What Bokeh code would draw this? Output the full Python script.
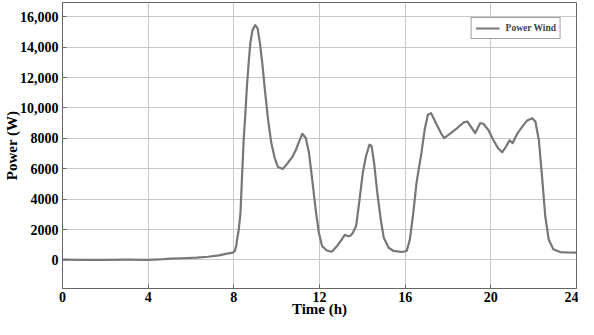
from bokeh.plotting import figure
from bokeh.models import FixedTicker, CustomJSTickFormatter, Range1d, Legend, LegendItem
from bokeh.embed import file_html
from bokeh.resources import INLINE

hours = [0, 1, 2, 3, 4, 4.5, 5.04, 5.6, 6.26, 6.8, 7.3, 7.63, 7.95, 8.05, 8.11, 8.16, 8.23, 8.31,
         8.39, 8.46, 8.54, 8.61, 8.69, 8.77, 8.87, 9.0, 9.11, 9.22, 9.33, 9.45, 9.6, 9.75, 9.91,
         10.06, 10.29, 10.52, 10.75, 10.9, 11.05, 11.2, 11.36, 11.51, 11.66, 11.82, 11.97, 12.12,
         12.34, 12.57, 12.8, 13.02, 13.18, 13.33, 13.45, 13.56, 13.71, 13.87, 14.02, 14.17, 14.33,
         14.43, 14.55, 14.7, 14.86, 15.0, 15.23, 15.46, 15.84, 16.07, 16.22, 16.38, 16.53, 16.76,
         16.91, 17.06, 17.21, 17.44, 17.67, 17.82, 18.13, 18.43, 18.74, 18.9, 19.04, 19.27, 19.5,
         19.65, 19.88, 20.11, 20.33, 20.53, 20.72, 20.87, 21.02, 21.25, 21.48, 21.7, 21.93, 22.08,
         22.24, 22.39, 22.54, 22.7, 22.92, 23.23, 23.6, 24]
power_wind = [20, 10, 0, 20, 10, 30, 85, 110, 150, 210, 300, 400, 480, 600, 920, 1400, 2000, 3100,
              5720, 7910, 9660, 11400, 12940, 14250, 15120, 15450, 15230, 14250, 12940, 11190, 9220,
              7690, 6700, 6120, 5990, 6380, 6820, 7250, 7800, 8300, 8020, 7040, 5290, 3320, 1790,
              920, 620, 540, 880, 1300, 1650, 1560, 1600, 1790, 2230, 3970, 5720, 6820, 7580, 7510,
              6380, 4410, 2660, 1460, 800, 590, 520, 590, 1350, 3100, 5070, 7040, 8560, 9550, 9660,
              9000, 8350, 8020, 8350, 8680, 9050, 9110, 8830, 8350, 9000, 8960, 8560, 7910, 7360,
              7080, 7480, 7870, 7690, 8350, 8790, 9180, 9330, 9110, 7910, 5510, 2890, 1350, 700,
              520, 490, 480]

x_ticks = [0, 4, 8, 12, 16, 20, 24]
y_ticks = [0, 2000, 4000, 6000, 8000, 10000, 12000, 14000, 16000]

FONT = "Liberation Serif"

p = figure(width=578, height=319, output_backend="svg", toolbar_location=None,
           x_range=Range1d(0, 24), y_range=Range1d(-1880, 16940),
           min_border_top=2, min_border_right=2, min_border_left=0, min_border_bottom=0)

r = p.line(hours, power_wind, line_color="#777777", line_width=2.2, line_join="round")

p.xaxis.ticker = FixedTicker(ticks=x_ticks)
p.yaxis.ticker = FixedTicker(ticks=y_ticks)
p.yaxis.formatter = CustomJSTickFormatter(code="""
    return tick >= 10000 ? tick.toLocaleString('en-US') : tick.toString();
""")

for ax in (p.xaxis[0], p.yaxis[0]):
    ax.major_label_text_font = FONT
    ax.major_label_text_font_style = "bold"
    ax.major_label_text_font_size = "14px"
    ax.major_label_text_color = "black"
    ax.axis_label_text_font = FONT
    ax.axis_label_text_font_style = "bold"
    ax.axis_label_text_font_size = "15px"
    ax.axis_label_text_color = "black"
    ax.major_tick_in = 4
    ax.major_tick_out = 0
    ax.minor_tick_line_color = None
    ax.axis_line_color = "#666666"
    ax.major_tick_line_color = "#666666"

p.xaxis.axis_label = "Time (h)"
p.yaxis.axis_label = "Power (W)"
p.xaxis.major_label_standoff = 3
p.xaxis.axis_label_standoff = -4
p.yaxis.major_label_standoff = 4
p.yaxis.axis_label_standoff = -3

p.grid.grid_line_color = "#c8c8c8"
p.grid.grid_line_width = 1
p.outline_line_color = "#666666"
p.outline_line_width = 1

legend = Legend(items=[LegendItem(label="Power Wind", renderers=[r])], location="top_right")
legend.margin = 15
legend.padding = 4
legend.label_text_font = FONT
legend.label_text_font_style = "bold"
legend.label_text_font_size = "9.5px"
legend.label_height = 12
legend.glyph_height = 12
legend.glyph_width = 24
legend.label_standoff = 6
legend.border_line_color = "#444444"
legend.border_line_width = 1
legend.background_fill_alpha = 1
p.add_layout(legend)

open("out.html", "w").write(file_html(p, INLINE))
